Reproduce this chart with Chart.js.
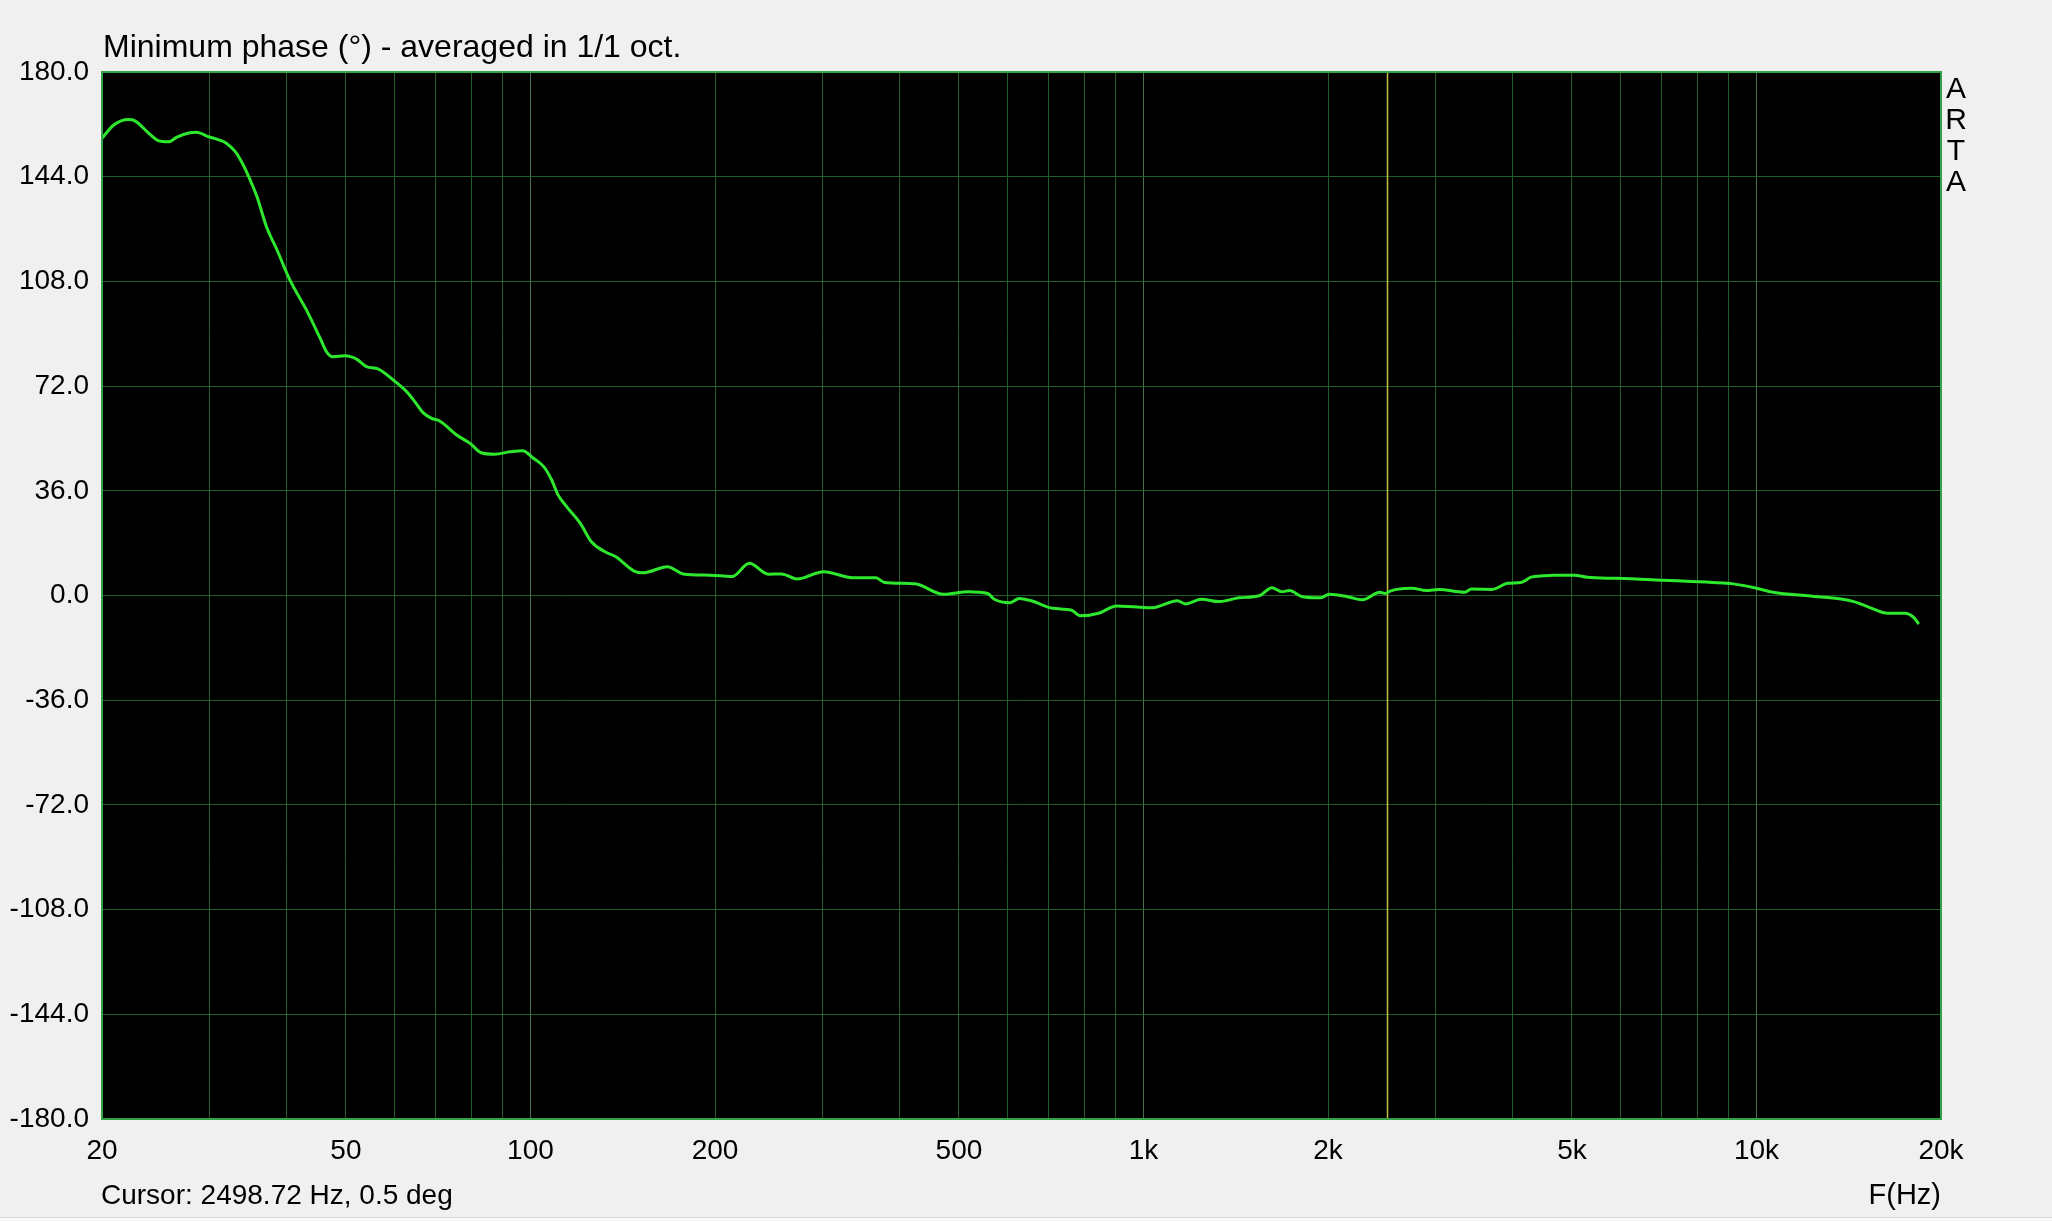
<!DOCTYPE html>
<html>
<head>
<meta charset="utf-8">
<script src="https://cdn.jsdelivr.net/npm/chart.js@4.4.1/dist/chart.umd.min.js"></script>
<style>
  html, body { margin: 0; padding: 0; background: #f0f0f0; }
  #wrap { position: relative; width: 2052px; height: 1222px; overflow: hidden; font-family: "Liberation Sans", Arial, sans-serif; color: #000; }
  #phaseChart { position: absolute; left: 0; top: 0; }
  .txt { position: absolute; white-space: nowrap; }
  #title { left: 103px; top: 30px; font-size: 32px; line-height: 32px; }
  #cursor { left: 101px; top: 1181px; font-size: 28px; line-height: 28px; }
  #faxis { right: 111px; top: 1180px; font-size: 29px; line-height: 29px; }
  #arta { left: 1944px; top: 72px; width: 24px; text-align: center; font-size: 30px; line-height: 31px; white-space: normal; }
  #foot { position: absolute; left: 0; top: 1217px; width: 2052px; height: 5px; border-top: 1px solid #d9d9d9; background: #fafafa; }
</style>
</head>
<body>
<div id="wrap">
  <canvas id="phaseChart" width="2052" height="1222"></canvas>
  <div class="txt" id="title">Minimum phase (°) - averaged in 1/1 oct.</div>
  <div class="txt" id="cursor">Cursor: 2498.72 Hz, 0.5 deg</div>
  <div class="txt" id="faxis">F(Hz)</div>
  <div class="txt" id="arta">A<br>R<br>T<br>A</div>
  <div id="foot"></div>
</div>
<script>
// frekuensi (Hz) dan fase minimum (derajat)
const freqs = [
  20, 20.9, 22.1, 22.6, 24.0, 24.7, 25.7, 26.5, 27.8, 28.5, 29.8, 31.1, 31.9, 33.0, 34.0, 34.7,
  35.8, 37.1, 38.6, 40.5, 43.1, 45.4, 46.5, 47.6, 49.8, 52.1, 54.0, 56.4, 59.7, 62.8, 64.8, 66.8,
  69.0, 71.1, 75.8, 79.7, 83.1, 87.5, 92.6, 97.1, 101.1, 105.1, 108.3, 110.9, 114.6, 120.6, 125.7,
  132.1, 137.8, 147.6, 152.7, 167.3, 177.5, 196.2, 213.2, 227.6, 244.2, 256.8, 272, 300.8, 336,
  366, 378, 424, 472, 518, 557, 571, 606, 627, 658, 711, 762, 789, 845, 904, 966, 1034, 1136,
  1170, 1243, 1328, 1432, 1544, 1620, 1682, 1730, 1816, 1942, 2010, 2150, 2278, 2430, 2478, 2525,
  2589, 2741, 2895, 3030, 3336, 3430, 3706, 3928, 4130, 4288, 4498, 4670, 5048, 5290, 5888, 6354,
  6860, 7556, 8480, 9160, 10000, 10640, 12240, 13740, 14420, 15420, 16340, 17480, 18000, 18400
];
const phase = [
  157.2, 161.8, 163.7, 163.3, 158.4, 156.4, 156.0, 157.6, 159.1, 159.3, 157.8, 156.6, 155.5, 152.6, 148.0, 144.0,
  137.1, 126.8, 118.8, 108.5, 98.2, 88.4, 83.8, 82.1, 82.4, 81.2, 78.7, 77.9, 74.1, 70.1, 66.6, 62.9,
  60.9, 60.0, 55.2, 52.3, 49.1, 48.6, 49.4, 49.8, 47.2, 44.3, 39.7, 34.6, 30.5, 24.8, 18.5,
  15.1, 13.3, 8.4, 7.8, 9.9, 7.4, 7.0, 6.5, 11.1, 7.3, 7.4, 5.7, 8.2, 6.1,
  6.1, 4.5, 4.0, 0.4, 1.3, 0.7, -1.3, -2.5, -1.0, -1.9, -4.4, -5.0, -7.0, -6.1, -3.6, -3.9, -4.2, -1.8,
  -2.9, -1.3, -2.1, -0.8, -0.1, 2.7, 1.3, 1.7, -0.4, -0.8, 0.4, -0.4, -1.5, 1.1, 0.7, 1.5,
  2.1, 2.5, 1.7, 2.1, 1.1, 2.2, 2.1, 4.2, 4.5, 6.3, 6.8, 7.0, 7.0, 6.3, 5.9, 5.7,
  5.3, 5.0, 4.5, 4.0, 2.5, 1.1, -0.2, -1.2, -2.1, -4.4, -6.1, -6.1, -7.3, -9.8
];

// garis grid vertikal dan label sumbu X
const gridFreqs = [20, 30, 40, 50, 60, 70, 80, 90, 100, 200, 300, 400, 500, 600, 700, 800, 900,
  1000, 2000, 3000, 4000, 5000, 6000, 7000, 8000, 9000, 10000, 20000];
const decadeFreqs = [100, 1000, 10000];
const xLabelFreqs = [20, 50, 100, 200, 500, 1000, 2000, 5000, 10000, 20000];
const xLabelTexts = ["20", "50", "100", "200", "500", "1k", "2k", "5k", "10k", "20k"];
const cursorFreq = 2498.72;

const points = freqs.map((f, i) => ({ x: f, y: phase[i] }));

// latar hitam, garis kursor, dan bingkai hijau area plot
const plotFrame = {
  id: "plotFrame",
  beforeDraw(chart) {
    const { ctx, chartArea: a } = chart;
    ctx.save();
    ctx.fillStyle = "#000";
    ctx.fillRect(a.left, a.top, a.right - a.left, a.bottom - a.top);
    ctx.restore();
  },
  beforeDatasetsDraw(chart) {
    const { ctx, chartArea: a } = chart;
    const x = Math.round(chart.scales.x.getPixelForValue(cursorFreq)) + 0.5;
    ctx.save();
    ctx.strokeStyle = "rgb(196,192,70)";
    ctx.lineWidth = 1.5;
    ctx.beginPath();
    ctx.moveTo(x, a.top);
    ctx.lineTo(x, a.bottom);
    ctx.stroke();
    ctx.restore();
  },
  afterDraw(chart) {
    const { ctx, chartArea: a } = chart;
    ctx.save();
    ctx.strokeStyle = "rgb(52,160,72)";
    ctx.lineWidth = 2;
    ctx.strokeRect(a.left, a.top, a.right - a.left, a.bottom - a.top);
    ctx.restore();
  }
};

const tickFont = { family: "'Liberation Sans', Arial, sans-serif", size: 28 };

new Chart(document.getElementById("phaseChart").getContext("2d"), {
  type: "line",
  data: {
    datasets: [{
      label: "Minimum phase",
      data: points,
      borderColor: "rgb(45,232,45)",
      borderWidth: 3,
      pointRadius: 0,
      cubicInterpolationMode: "monotone",
      fill: false
    }]
  },
  options: {
    responsive: false,
    animation: false,
    devicePixelRatio: 1,
    layout: { padding: { left: 0, right: 111, top: 72, bottom: 0 } },
    plugins: { legend: { display: false }, tooltip: { enabled: false }, title: { display: false } },
    scales: {
      x: {
        type: "logarithmic",
        min: 20,
        max: 20000,
        afterBuildTicks: (scale) => { scale.ticks = gridFreqs.map(v => ({ value: v })); },
        afterFit: (scale) => { scale.height = 103; scale.paddingLeft = 0; scale.paddingRight = 0; },
        border: { display: false },
        grid: {
          drawTicks: false,
          lineWidth: 1,
          color: (c) => decadeFreqs.includes(c.tick && c.tick.value) ? "rgb(70,112,80)" : "rgb(32,96,40)"
        },
        ticks: {
          autoSkip: false,
          maxRotation: 0,
          minRotation: 0,
          padding: 15,
          color: "#000",
          font: tickFont,
          callback: (v) => {
            const k = xLabelFreqs.indexOf(v);
            return k >= 0 ? xLabelTexts[k] : "";
          }
        }
      },
      y: {
        type: "linear",
        min: -180,
        max: 180,
        afterFit: (scale) => { scale.width = 102; scale.paddingTop = 0; scale.paddingBottom = 0; },
        border: { display: false },
        grid: { drawTicks: false, lineWidth: 1, color: "rgb(32,96,40)" },
        ticks: {
          stepSize: 36,
          padding: 13,
          color: "#000",
          font: tickFont,
          callback: (v) => v.toFixed(1)
        }
      }
    }
  },
  plugins: [plotFrame]
});
</script>
</body>
</html>
